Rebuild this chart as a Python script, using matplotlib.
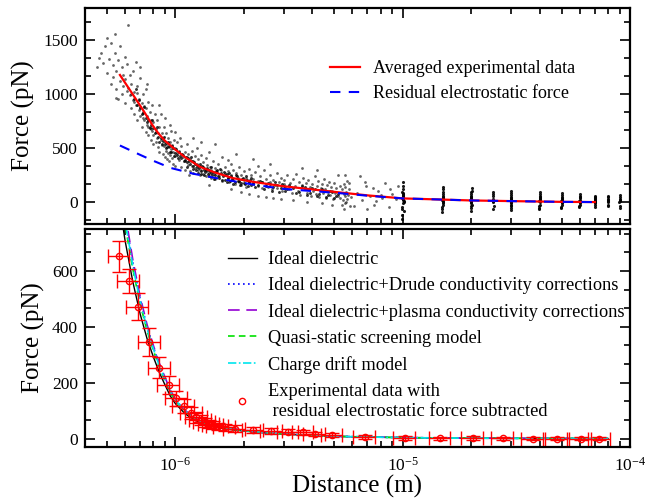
import matplotlib.pyplot as plt
import numpy as np
from matplotlib.lines import Line2D
from matplotlib.ticker import MultipleLocator, LogLocator, NullFormatter, FixedLocator, FixedFormatter

plt.rcParams['font.family'] = ['Liberation Serif', 'DejaVu Serif']
plt.rcParams['mathtext.fontset'] = 'custom'
plt.rcParams['mathtext.rm'] = 'Liberation Serif'
plt.rcParams['mathtext.it'] = 'Liberation Serif:italic'

# ---- top panel: raw measurements (distance in um, force in pN) ----
cloud_dist = [
    0.45, 0.46, 0.47, 0.48, 0.49, 0.50, 0.50, 0.51, 0.52, 0.52,
    0.53, 0.53, 0.54, 0.54, 0.55, 0.55, 0.55, 0.56, 0.56, 0.57,
    0.57, 0.58, 0.58, 0.59, 0.59, 0.60, 0.60, 0.60, 0.61, 0.61,
    0.62, 0.62, 0.63, 0.63, 0.64, 0.64, 0.65, 0.65, 0.66, 0.66,
    0.67, 0.67, 0.68, 0.68, 0.69, 0.69, 0.70, 0.70, 0.71, 0.71,
    0.72, 0.72, 0.73, 0.73, 0.74, 0.74, 0.75, 0.75, 0.76, 0.76,
    0.77, 0.77, 0.78, 0.78, 0.79, 0.79, 0.80, 0.80, 0.80, 0.81,
    0.64, 0.66, 0.68, 0.70, 0.72, 0.74, 0.76, 0.78, 0.70, 0.75,
    0.82, 0.82, 0.83, 0.83, 0.84, 0.84, 0.85, 0.85, 0.86, 0.86,
    0.87, 0.87, 0.88, 0.88, 0.89, 0.89, 0.90, 0.90, 0.91, 0.91,
    0.92, 0.92, 0.93, 0.93, 0.94, 0.94, 0.95, 0.95, 0.96, 0.96,
    0.97, 0.97, 0.98, 0.98, 0.99, 1.00, 1.00, 1.00, 1.02, 1.02,
    1.04, 1.04, 1.06, 1.06, 1.08, 0.85, 0.90, 0.95, 1.00, 1.05,
    1.10, 1.10, 1.10, 1.12, 1.12, 1.14, 1.14, 1.16, 1.16, 1.18,
    1.18, 1.20, 1.20, 1.22, 1.22, 1.24, 1.24, 1.26, 1.26, 1.28,
    1.28, 1.30, 1.30, 1.32, 1.32, 1.34, 1.36, 1.36, 1.38, 1.38,
    1.40, 1.40, 1.42, 1.44, 1.44, 1.46, 1.48, 1.50, 1.50, 1.52,
    1.54, 1.56, 1.58, 1.60, 1.60, 1.20, 1.30, 1.40, 1.50, 1.15,
    1.65, 1.65, 1.70, 1.70, 1.72, 1.75, 1.75, 1.80, 1.80, 1.82,
    1.85, 1.88, 1.90, 1.90, 1.95, 1.95, 2.00, 2.00, 2.05, 2.05,
    2.10, 2.10, 2.15, 2.20, 2.20, 2.25, 2.30, 2.30, 2.35, 2.40,
    2.40, 2.45, 2.50, 2.50, 2.55, 2.60, 2.60, 2.65, 2.70, 2.75,
    2.80, 2.80, 2.85, 2.90, 2.95, 3.00, 3.00, 3.05, 2.30, 1.70,
    1.75, 1.95, 2.10, 2.30, 2.50, 2.70, 2.90, 2.20, 2.60, 1.85,
    3.10, 3.15, 3.20, 3.25, 3.30, 3.35, 3.40, 3.45, 3.50, 3.55,
    3.60, 3.65, 3.70, 3.75, 3.80, 3.85, 3.90, 3.95, 4.00, 4.05,
    4.10, 4.15, 4.20, 4.25, 4.30, 4.35, 4.40, 4.45, 4.50, 4.55,
    4.60, 4.65, 4.70, 4.75, 4.80, 4.85, 4.90, 4.95, 5.00, 5.05,
    5.10, 5.20, 5.30, 4.20, 3.60, 3.30, 3.80, 4.40, 4.90, 5.20,
    5.30, 5.40, 5.45, 5.50, 5.50, 5.55, 5.60, 5.60, 5.65, 5.70,
    5.70, 5.75, 5.80, 5.85, 5.90, 5.60, 5.50, 5.40, 5.80, 5.65,
    6.30, 6.60, 6.90, 7.20, 7.50, 7.80, 8.10, 8.40, 8.70, 9.00,
    9.30, 6.50, 7.60, 8.80, 6.10, 7.00, 8.00, 9.50, 6.80, 7.40,
]
cloud_force = [
    1250, 1340, 1380, 1290, 1450, 1200, 1520, 1330, 1480, 1100,
    1160, 1270, 1560, 1380, 1050, 1220, 970, 1320, 960, 1120,
    1450, 1000, 1250, 1180, 1080, 1350, 920, 1140, 1280, 1030,
    1640, 1060, 990, 1180, 870, 1100, 1220, 950, 1020, 820,
    1300, 900, 1080, 760, 960, 860, 1150, 800, 920, 700,
    1000, 840, 760, 890, 650, 1050, 800, 720, 930, 620,
    700, 840, 760, 580, 660, 900, 620, 740, 540, 820,
    1000, 930, 1010, 880, 780, 870, 700, 680, 1250, 1100,
    560, 680, 760, 600, 510, 640, 700, 470, 580, 820,
    530, 640, 450, 600, 700, 520, 420, 560, 480, 640,
    540, 400, 600, 460, 510, 380, 560, 440, 490, 660,
    410, 530, 360, 470, 580, 430, 500, 340, 460, 560,
    390, 480, 330, 520, 420, 900, 780, 720, 650, 600,
    380, 470, 300, 420, 540, 350, 450, 290, 400, 480,
    340, 380, 270, 430, 320, 360, 500, 300, 400, 250,
    340, 440, 300, 370, 260, 320, 410, 240, 290, 350,
    470, 270, 330, 230, 300, 380, 260, 320, 220, 280,
    360, 240, 300, 200, 420, 600, 560, 160, 540, 250,
    270, 330, 230, 290, 190, 360, 250, 210, 300, 170,
    270, 230, 330, 190, 250, 160, 290, 210, 230, 140,
    310, 190, 250, 170, 220, 280, 150, 200, 240, 130,
    190, 300, 170, 220, 140, 250, 190, 120, 210, 160,
    270, 130, 190, 230, 110, 170, 210, 140, 340, 390,
    120, 100, 80, 60, 50, 40, 30, 400, 360, 450,
    250, 120, 180, 90, 220, 150, 260, 110, 190, 70,
    160, 230, 120, 180, 90, 210, 140, 60, 170, 110,
    240, 80, 150, 200, 50, 130, 170, 90, 220, 120,
    40, 160, 100, 190, 70, 140, 110, 30, 180, 90,
    130, 60, 150, 300, 320, 20, 0, -10, -20, 250,
    40, 120, 20, 170, 80, -10, 60, 140, 100, 30,
    200, 70, 120, -30, 50, 250, -60, -20, 180, 0,
    90, 20, 150, 60, -20, 110, 40, 180, -40, 80,
    30, 240, 10, 120, -30, -60, 70, 150, 190, 130,
]

# densest part of the cloud, close to the averaged curve
core_dist = [
    0.66, 0.68, 0.70, 0.72, 0.74, 0.76, 0.78, 0.80, 0.82, 0.84,
    0.67, 0.69, 0.71, 0.73, 0.75, 0.77, 0.79, 0.81, 0.83, 0.85,
    0.86, 0.88, 0.90, 0.92, 0.94, 0.96, 0.98, 1.00, 1.02, 1.04,
    0.87, 0.89, 0.91, 0.93, 0.95, 0.97, 0.99, 1.01, 1.03, 1.05,
    1.06, 1.08, 1.10, 1.12, 1.14, 1.16, 1.18, 1.20, 1.22, 1.24,
    1.07, 1.09, 1.11, 1.13, 1.15, 1.17, 1.19, 1.21, 1.23, 1.25,
    1.27, 1.29, 1.31, 1.33, 1.35, 1.37, 1.39, 1.41, 1.43, 1.45,
    1.26, 1.28, 1.30, 1.32, 1.34, 1.36, 1.38, 1.40, 1.42, 1.44,
    1.47, 1.50, 1.53, 1.56, 1.59, 1.62, 1.65, 1.68, 1.71, 1.74,
    1.48, 1.51, 1.54, 1.57, 1.60, 1.63, 1.66, 1.69, 1.72, 1.75,
    1.78, 1.82, 1.86, 1.90, 1.94, 1.98, 2.02, 2.06, 2.10, 2.14,
    1.80, 1.84, 1.88, 1.92, 1.96, 2.00, 2.04, 2.08, 2.12, 2.16,
    2.20, 2.30, 2.40, 2.50, 2.60, 2.70, 2.80, 2.90, 3.00, 3.10,
    2.25, 2.35, 2.45, 2.55, 2.65, 2.75, 2.85, 2.95, 3.05, 3.15,
    3.30, 3.50, 3.70, 3.90, 4.10, 4.30, 4.50, 4.70, 4.90, 5.10,
    3.40, 3.60, 3.80, 4.00, 4.20, 4.40, 4.60, 4.80, 5.00, 5.20,
]
core_force = [
    960, 900, 870, 830, 780, 760, 720, 690, 650, 610,
    1050, 950, 820, 880, 740, 690, 760, 640, 700, 560,
    600, 570, 540, 510, 520, 470, 500, 460, 440, 470,
    540, 610, 500, 560, 470, 520, 430, 490, 410, 430,
    410, 440, 390, 370, 410, 360, 380, 340, 360, 330,
    450, 380, 420, 330, 380, 420, 310, 370, 300, 350,
    320, 290, 340, 300, 280, 310, 260, 300, 270, 250,
    270, 360, 260, 330, 250, 300, 320, 240, 290, 330,
    280, 250, 300, 230, 270, 240, 210, 260, 230, 200,
    220, 290, 240, 310, 210, 280, 250, 190, 270, 240,
    220, 190, 240, 200, 180, 230, 170, 210, 190, 160,
    170, 250, 200, 160, 220, 180, 240, 150, 210, 230,
    180, 160, 190, 150, 170, 140, 160, 130, 150, 120,
    140, 200, 120, 180, 110, 190, 100, 170, 110, 160,
    130, 100, 140, 90, 120, 80, 110, 70, 100, 60,
    90, 150, 70, 130, 60, 120, 50, 110, 40, 80,
]

# vertical strips of repeated measurements at large separations (um, pN)
strip_dist = [
    9.9, 10.0, 10.1, 10.0, 9.95, 10.05, 10.0, 10.1, 9.9, 10.0,
    10.05, 9.95, 10.0, 10.1, 10.0, 9.9, 10.0, 10.05, 9.95, 10.0,
    14.9, 15.0, 15.1, 15.0, 14.9, 15.05, 15.0, 15.1, 14.95, 15.0,
    15.05, 14.9, 15.0, 15.1, 15.0, 15.0,
    19.9, 20.0, 20.1, 20.0, 19.9, 20.05, 20.0, 20.1, 19.95, 20.0,
    20.05, 19.9, 20.0, 20.1, 20.0, 20.0,
    24.9, 25.0, 25.1, 25.0, 25.0, 24.95, 25.05, 25.0,
    29.9, 30.0, 30.1, 30.0, 29.9, 30.05, 30.0, 30.1, 29.95, 30.0,
    30.05, 29.9, 30.0, 30.1,
    39.9, 40.0, 40.1, 40.0, 39.9, 40.05, 40.0, 40.1, 39.95, 40.0,
    40.05, 39.9, 40.0,
    49.9, 50.0, 50.1, 50.0, 49.9, 50.05, 50.0, 50.1, 49.95, 50.0,
    50.05, 50.0,
    59.9, 60.0, 60.1, 60.0, 59.9, 60.05, 60.0, 60.1, 59.95, 60.0,
    60.0,
    69.9, 70.0, 70.1, 70.0, 69.9, 70.05, 70.0, 70.1, 70.0, 70.0,
    79.9, 80.0, 80.1, 80.0, 80.0, 80.05, 80.0, 80.0,
    89.9, 90.0, 90.1, 90.0, 90.0, 90.05, 90.0, 90.0,
]
strip_force = [
    40, 80, 0, 120, -40, 60, 20, -80, 100, -10,
    150, -120, 50, 10, 190, -150, 30, 90, -60, 70,
    20, 60, -20, 100, -60, 40, 0, 140, -90, 80,
    30, -40, 10, 120, 50, -10,
    20, 60, -20, 100, -50, 40, 0, 130, -80, 80,
    30, -30, 10, 110, 50, -10,
    10, 60, -30, 100, 30, -60, 80, 0,
    10, 50, -20, 90, -50, 30, 0, 110, -70, 70,
    20, -30, 40, -10,
    10, 50, -20, 80, -50, 30, 0, 100, -60, 60,
    20, -30, 40,
    10, 40, -20, 70, -40, 30, 0, 90, -50, 50,
    20, -10,
    10, 40, -20, 60, -40, 20, 0, 80, -30, 50,
    -10,
    0, 30, -20, 50, -40, 20, 10, 60, -10, 40,
    0, 30, -20, 50, -30, 20, 10, 60,
    0, 30, -30, 50, -50, 20, 10, 70,
]

avg_dist = [0.57, 0.64, 0.72, 0.79, 0.84, 0.90, 1.0, 1.1, 1.28, 1.5, 1.79, 2.2, 2.98,
            4.3, 5.3, 7.0, 10, 15, 20, 30, 40, 50, 60, 70]
avg_force = [1180, 1020, 856, 720, 641, 570, 488, 420, 330, 275, 225, 190, 150,
             113, 92, 65, 37, 26, 18, 12, 8, 5, 4, 3]

resid_dist = [0.57, 0.7, 0.8, 0.95, 1.2, 1.63, 2.2, 2.98, 4.3, 5.3, 7, 10, 15, 20,
              30, 40, 50, 60, 70]
resid_force = [527, 440, 385, 320, 265, 212, 165, 125, 100, 85, 62, 37, 26, 18,
               12, 8, 5, 4, 3]

# ---- bottom panel: theory curves (um, pN) ----
theory_dist = [0.56, 0.58, 0.60, 0.65, 0.70, 0.75, 0.80, 0.85, 0.90, 0.95, 1.0, 1.1,
               1.2, 1.3, 1.4, 1.6, 1.8, 2.0, 2.5, 3.0, 4.0, 5.0, 7.0, 10, 15, 20,
               30, 50, 80]
ideal_force = [880, 790, 710, 560, 445, 358, 292, 236, 192, 152, 125, 90, 68, 55, 46,
               37, 31, 27, 20, 16, 11, 8, 5.5, 3.5, 2.2, 1.6, 1.0, 0.6, 0.35]
drude_force = [985, 885, 795, 627, 498, 401, 327, 264, 215, 170, 140, 100, 76, 61, 51,
               41, 34, 29, 21, 17, 11.5, 8.4, 5.8, 3.7, 2.3, 1.7, 1.05, 0.63, 0.37]
plasma_force = [1003, 900, 809, 638, 507, 408, 333, 269, 219, 173, 142, 102, 77, 62, 52,
                42, 35, 30, 22, 17.5, 11.8, 8.6, 5.9, 3.8, 2.4, 1.7, 1.07, 0.64, 0.38]
quasi_force = [950, 853, 767, 605, 481, 387, 315, 255, 207, 164, 135, 97, 73, 59, 50,
               40, 33, 28.5, 21, 16.8, 11.3, 8.3, 5.7, 3.6, 2.25, 1.65, 1.03, 0.62, 0.36]
drift_force = [968, 869, 781, 616, 490, 394, 321, 260, 211, 167, 138, 99, 75, 60, 50.5,
               40.5, 33.5, 29, 21.3, 17, 11.4, 8.4, 5.8, 3.65, 2.3, 1.67, 1.04, 0.62, 0.37]

exp_dist = [0.564, 0.624, 0.684, 0.769, 0.851, 0.933, 1.009, 1.089, 1.174, 1.236,
            1.291, 1.345, 1.406, 1.464, 1.539, 1.648, 1.823, 2.195, 2.643, 3.13,
            3.65, 4.11, 4.89, 6.81, 10.2, 14.6, 20.3, 27.5, 37.3, 47.6, 60.8, 73.4]
exp_force = [652, 564, 472, 344, 254, 192, 144, 116, 92, 76,
             66, 58, 52, 48, 44, 41, 36, 32, 28, 24,
             22, 16, 12, 6, 3, 1, 2, 1, 0, 0, 0, 0]
exp_force_err = [55, 42, 48, 50, 38, 32, 28, 25, 22, 20,
                 18, 16, 15, 14, 13, 12, 11, 11, 10, 9,
                 9, 8, 8, 7, 7, 6, 6, 6, 6, 6, 6, 6]
exp_dist_err = [0.06, 0.068, 0.075, 0.085, 0.094, 0.1, 0.11, 0.12, 0.13, 0.135,
                0.14, 0.15, 0.155, 0.16, 0.17, 0.18, 0.2, 0.24, 0.29, 0.34,
                0.4, 0.45, 0.54, 0.75, 1.12, 1.6, 2.2, 3.0, 4.1, 5.2, 6.7, 8.1]

um = 1e-6

fig = plt.figure(figsize=(6.67, 5.01), dpi=100)
ax1 = fig.add_axes([0.1274, 0.5529, 0.8171, 0.4311])
ax2 = fig.add_axes([0.1274, 0.1078, 0.8171, 0.4351])

ax1.scatter(np.array(cloud_dist) * um, cloud_force, s=4, c='black', linewidths=0, alpha=0.6)
ax1.scatter(np.array(core_dist) * um, core_force, s=4.5, c='black', linewidths=0, alpha=0.8)
ax1.scatter(np.array(strip_dist) * um, strip_force, s=5, c='black', linewidths=0, alpha=0.9)
ax1.plot(np.array(avg_dist) * um, avg_force, color='red', lw=1.6, label='Averaged experimental data')
ax1.plot(np.array(resid_dist) * um, resid_force, color='blue', lw=1.5, dashes=(5, 4),
         label='Residual electrostatic force')

d = np.array(theory_dist) * um
ax2.plot(d, ideal_force, color='black', lw=1.0)
ax2.plot(d, drude_force, color='blue', lw=1.2, ls=(0, (1, 2)))
ax2.plot(d, plasma_force, color='#9400d3', lw=1.2, ls=(0, (7, 4)))
ax2.plot(d, quasi_force, color='#00e000', lw=1.2, ls=(0, (4, 2.5)))
ax2.plot(d, drift_force, color='#00e5ee', lw=1.2, ls=(0, (5, 1.5, 1, 1.5)))
ax2.errorbar(np.array(exp_dist) * um, exp_force, xerr=np.array(exp_dist_err) * um,
             yerr=exp_force_err, fmt='o', ms=4.5, mfc='none', mec='red', mew=1.0,
             ecolor='red', elinewidth=1.0, capsize=5, capthick=1.0)

handles2 = [
    Line2D([], [], color='black', lw=1.0),
    Line2D([], [], color='blue', lw=1.2, ls=(0, (1, 2))),
    Line2D([], [], color='#9400d3', lw=1.2, ls=(0, (7, 4))),
    Line2D([], [], color='#00e000', lw=1.2, ls=(0, (4, 2.5))),
    Line2D([], [], color='#00e5ee', lw=1.2, ls=(0, (5, 1.5, 1, 1.5))),
    Line2D([], [], ls='none', marker='o', ms=4.5, mfc='none', mec='red', mew=1.0),
]
labels2 = [
    'Ideal dielectric',
    'Ideal dielectric+Drude conductivity corrections',
    'Ideal dielectric+plasma conductivity corrections',
    'Quasi-static screening model',
    'Charge drift model',
    'Experimental data with\n residual electrostatic force subtracted',
]

for ax in (ax1, ax2):
    ax.set_xscale('log')
    ax.set_xlim(4e-7, 1e-4)
    ax.xaxis.set_major_locator(FixedLocator([1e-6, 1e-5, 1e-4]))
    ax.xaxis.set_minor_locator(LogLocator(base=10, subs=np.arange(2, 10)))
    ax.xaxis.set_minor_formatter(NullFormatter())
    ax.tick_params(which='both', direction='in', top=True, right=True, width=1.2,
                   labelsize=12.5)
    ax.tick_params(which='major', length=7)
    ax.tick_params(which='minor', length=4)
    ax.tick_params(axis='y', pad=5)
    for sp in ax.spines.values():
        sp.set_linewidth(1.6)

ax1.set_ylim(-200, 1800)
ax1.yaxis.set_major_locator(FixedLocator([0, 500, 1000, 1500]))
ax1.yaxis.set_minor_locator(MultipleLocator(500 / 3))
ax1.xaxis.set_major_formatter(NullFormatter())
ax1.set_ylabel('Force (pN)', fontsize=18)
ax1.yaxis.set_label_coords(-0.092, 0.5)

ax2.set_ylim(-30, 750)
ax2.yaxis.set_major_locator(FixedLocator([0, 200, 400, 600]))
ax2.yaxis.set_minor_locator(MultipleLocator(200 / 3))
ax2.xaxis.set_major_formatter(FixedFormatter([r'$10^{-6}$', r'$10^{-5}$', r'$10^{-4}$']))
ax2.tick_params(axis='x', pad=7)
ax2.set_ylabel('Force (pN)', fontsize=18)
ax2.yaxis.set_label_coords(-0.073, 0.5)
ax2.set_xlabel('Distance (m)', fontsize=18, labelpad=0)

ax1.legend(loc='upper left', bbox_to_anchor=(0.449, 0.758), frameon=False, fontsize=13,
           handlelength=1.7, handletextpad=0.7, labelspacing=0.45, borderpad=0,
           borderaxespad=0)
ax2.legend(handles2, labels2, loc='upper left', bbox_to_anchor=(0.262, 0.898),
           frameon=False, fontsize=13.2, handlelength=1.6, handletextpad=0.6,
           labelspacing=0.5, borderpad=0, borderaxespad=0)

fig.savefig('out.png', dpi=100)
